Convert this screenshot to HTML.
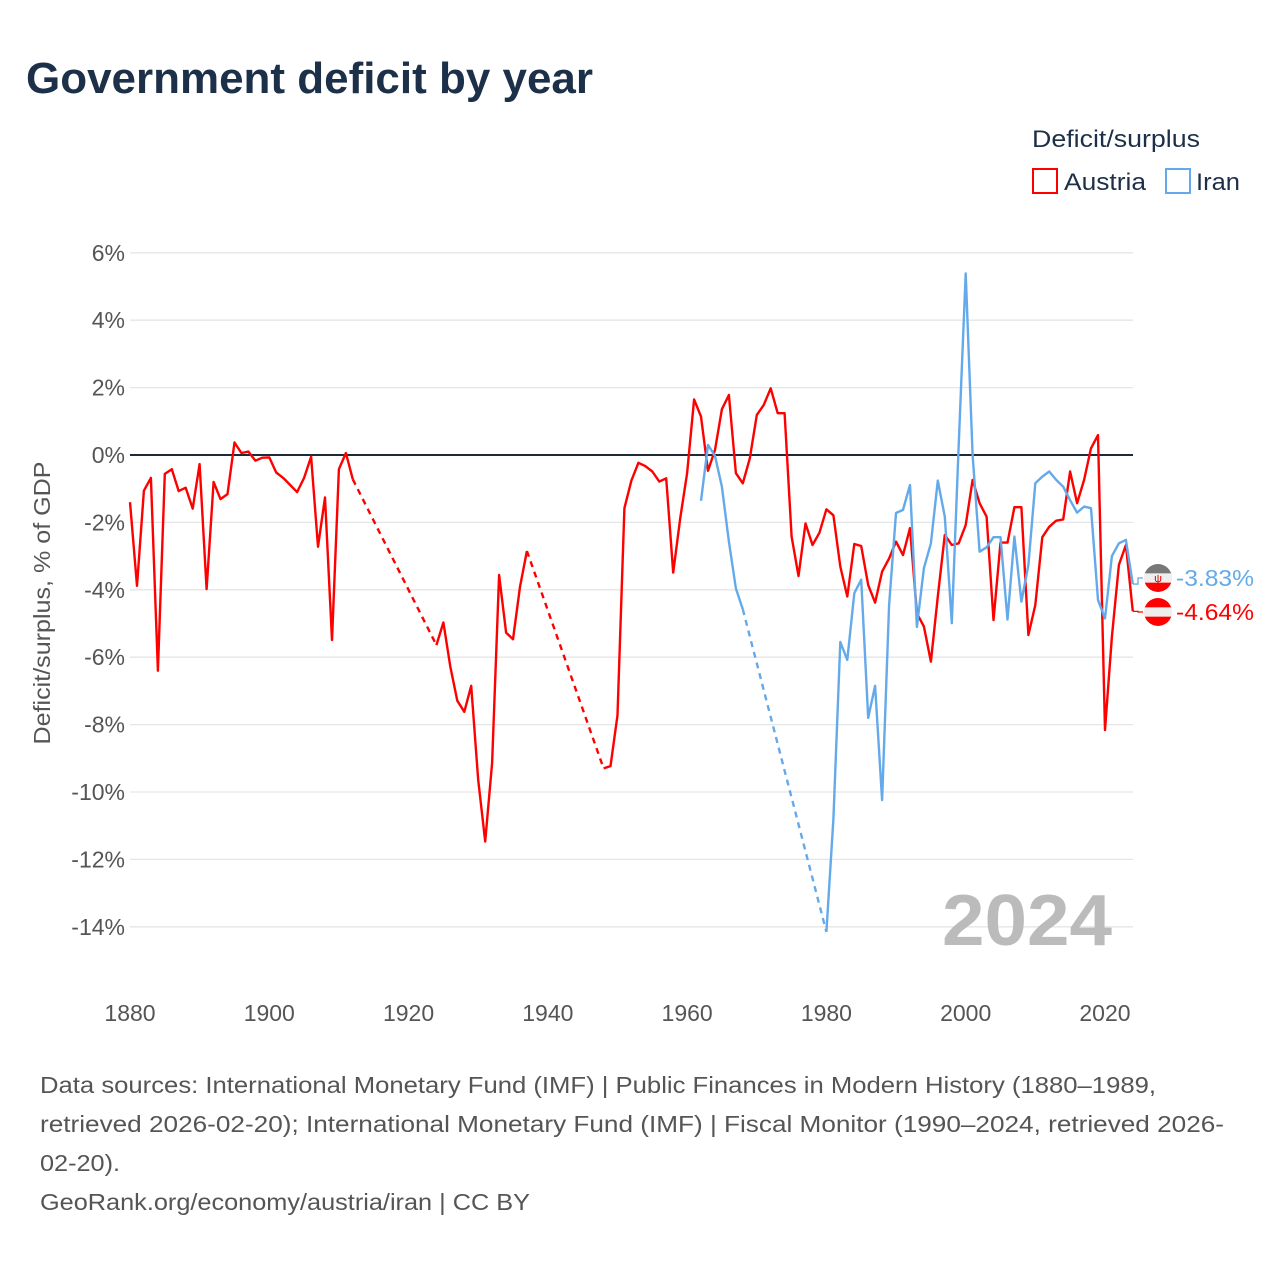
<!DOCTYPE html>
<html><head><meta charset="utf-8"><style>
html,body{margin:0;padding:0;background:#fff;width:1280px;height:1280px;overflow:hidden}
svg{display:block;font-family:"Liberation Sans",sans-serif}
</style></head><body>
<svg id="chart" width="1280" height="1280" viewBox="0 0 1280 1280">
<text x="26" y="93" font-size="44" font-weight="bold" fill="#1d3049" textLength="567" lengthAdjust="spacingAndGlyphs">Government deficit by year</text>
<text x="1032" y="147" font-size="24" fill="#1d3049" textLength="168" lengthAdjust="spacingAndGlyphs">Deficit/surplus</text>
<g>
<rect x="1033" y="169" width="24" height="24" fill="none" stroke="#f00" stroke-width="2"/>
<text x="1064" y="190" font-size="24" fill="#1d3049" textLength="82" lengthAdjust="spacingAndGlyphs">Austria</text></g>
<g>
<rect x="1166" y="169" width="24" height="24" fill="none" stroke="#64aaeb" stroke-width="2"/>
<text x="1196" y="190" font-size="24" fill="#1d3049" textLength="44" lengthAdjust="spacingAndGlyphs">Iran</text></g>
<g id="grid"></g><g id="series"></g>
<text x="942" y="945" font-size="72" font-weight="bold" fill="#bbb" textLength="170" lengthAdjust="spacingAndGlyphs">2024</text>
<text transform="translate(50,603) rotate(-90)" font-size="23" fill="#555" text-anchor="middle" textLength="283" lengthAdjust="spacingAndGlyphs">Deficit/surplus, % of GDP</text>
<g font-size="23" fill="#555">
<text x="40" y="1093" textLength="1116" lengthAdjust="spacingAndGlyphs">Data sources: International Monetary Fund (IMF) | Public Finances in Modern History (1880–1989,</text>
<text x="40" y="1132" textLength="1184" lengthAdjust="spacingAndGlyphs">retrieved 2026-02-20); International Monetary Fund (IMF) | Fiscal Monitor (1990–2024, retrieved 2026-</text>
<text x="40" y="1171" textLength="80" lengthAdjust="spacingAndGlyphs">02-20).</text>
<text x="40" y="1210" textLength="490" lengthAdjust="spacingAndGlyphs">GeoRank.org/economy/austria/iran | CC BY</text>
</g>
</svg>
<script>
const yTicks=[6,4,2,0,-2,-4,-6,-8,-10,-12,-14];
const xTicks=[1880,1900,1920,1940,1960,1980,2000,2020];
const austriaYears=[1880,1881,1882,1883,1884,1885,1886,1887,1888,1889,1890,1891,1892,1893,1894,1895,1896,1897,1898,1899,1900,1901,1902,1903,1904,1905,1906,1907,1908,1909,1910,1911,1912,
1924,1925,1926,1927,1928,1929,1930,1931,1932,1933,1934,1935,1936,1937,
1948,1949,1950,1951,1952,1953,1954,1955,1956,1957,1958,1959,1960,1961,1962,1963,1964,1965,1966,1967,1968,1969,1970,1971,1972,1973,1974,1975,1976,1977,1978,1979,1980,1981,1982,1983,1984,1985,1986,1987,1988,1989,1990,1991,1992,1993,1994,1995,1996,1997,1998,1999,2000,2001,2002,2003,2004,2005,2006,2007,2008,2009,2010,2011,2012,2013,2014,2015,2016,2017,2018,2019,2020,2021,2022,2023,2024];
const austriaValues=[-1.4,-3.88,-1.06,-0.68,-6.4,-0.56,-0.42,-1.07,-0.97,-1.59,-0.27,-3.98,-0.8,-1.31,-1.16,0.37,0.06,0.1,-0.17,-0.08,-0.07,-0.52,-0.68,-0.89,-1.1,-0.68,-0.05,-2.72,-1.26,-5.49,-0.42,0.06,-0.72,
-5.64,-4.97,-6.28,-7.29,-7.62,-6.85,-9.64,-11.47,-9.14,-3.56,-5.27,-5.47,-3.91,-2.85,
-9.3,-9.23,-7.72,-1.58,-0.76,-0.23,-0.33,-0.49,-0.79,-0.69,-3.49,-1.88,-0.54,1.65,1.14,-0.47,0.15,1.36,1.78,-0.54,-0.84,-0.1,1.19,1.48,1.98,1.24,1.24,-2.42,-3.59,-2.03,-2.67,-2.31,-1.61,-1.79,-3.31,-4.2,-2.64,-2.7,-3.86,-4.38,-3.46,-3.07,-2.57,-2.97,-2.17,-4.7,-5.09,-6.13,-4.2,-2.37,-2.67,-2.62,-2.08,-0.74,-1.43,-1.83,-4.9,-2.6,-2.6,-1.55,-1.55,-5.34,-4.45,-2.44,-2.13,-1.95,-1.91,-0.49,-1.43,-0.74,0.2,0.59,-8.16,-5.39,-3.26,-2.67,-4.64];
const iranYears=[1962,1963,1964,1965,1966,1967,1968,1980,1981,1982,1983,1984,1985,1986,1987,1988,1989,1990,1991,1992,1993,1994,1995,1996,1997,1998,1999,2000,2001,2002,2003,2004,2005,2006,2007,2008,2009,2010,2011,2012,2013,2014,2015,2016,2017,2018,2019,2020,2021,2022,2023,2024];
const iranValues=[-1.36,0.3,-0.03,-0.94,-2.57,-3.96,-4.58,-14.15,-10.8,-5.55,-6.08,-4.1,-3.7,-7.8,-6.85,-10.24,-4.45,-1.72,-1.63,-0.89,-5.1,-3.36,-2.62,-0.76,-1.83,-4.99,0.3,5.39,0.0,-2.87,-2.74,-2.44,-2.44,-4.88,-2.42,-4.35,-3.26,-0.84,-0.64,-0.49,-0.74,-0.94,-1.34,-1.71,-1.53,-1.58,-4.3,-4.85,-3.0,-2.62,-2.52,-3.83];
const NS='http://www.w3.org/2000/svg';
const X=y=>130+(y-1880)*6.964;
const Y=v=>455-v*33.7;
const grid=document.getElementById('grid'),ser=document.getElementById('series');
function mk(tag,at,parent){const e=document.createElementNS(NS,tag);for(const k in at)e.setAttribute(k,at[k]);parent.appendChild(e);return e;}
yTicks.forEach(t=>{
  const l=mk('line',{x1:130,x2:1133,y1:Y(t),y2:Y(t),stroke:t===0?'#1d2a3c':'#e6e6e6','stroke-width':t===0?2:1.3},grid);
  
  
  const tx=mk('text',{x:125,y:Y(t)+8,'font-size':23,fill:'#555','text-anchor':'end'},grid);
  tx.textContent=t+'%';
  
  
});
xTicks.forEach(t=>{
  const tx=mk('text',{x:X(t),y:1021,'font-size':23,fill:'#555','text-anchor':'middle'},grid);
  tx.textContent=t;
  
  
});
function drawSeries(years,vals,color,name){
  const g=mk('g',{},ser);
  
  
  let solid='',dash='';
  for(let i=0;i<years.length;i++){
    const p=X(years[i]).toFixed(1)+','+Y(vals[i]).toFixed(1);
    if(i===0){solid+='M'+p;continue;}
    const q=X(years[i-1]).toFixed(1)+','+Y(vals[i-1]).toFixed(1);
    if(years[i]-years[i-1]===1)solid+='L'+p; else {dash+='M'+q+'L'+p;solid+='M'+p;}
  }
  mk('path',{d:solid,fill:'none',stroke:color,'stroke-width':2.4,'stroke-linejoin':'round'},g);
  mk('path',{d:dash,fill:'none',stroke:color,'stroke-width':2.4,'stroke-dasharray':'6,5'},g);
}
drawSeries(austriaYears,austriaValues,'#f00','austria');
drawSeries(iranYears,iranValues,'#64aaeb','iran');
function endLabel(vals,color,ly,name,flag){
  const last=vals[vals.length-1];
  const g=mk('g',{},ser);
  
  
  mk('path',{d:`M1133,${Y(last)}H1138V${ly}H1143`,fill:'none',stroke:color,'stroke-width':1.3},g);
  const cx=1158,r=14;
  const cpth=mk('clipPath',{id:'c'+name},g);
  mk('circle',{cx:cx,cy:ly,r:r},cpth);
  const fg=mk('g',{'clip-path':`url(#c${name})`},g);
  flag.forEach((c,i)=>mk('rect',{x:cx-r,y:ly-r+i*(2*r/3),width:2*r,height:2*r/3+0.5,fill:c},fg));
  if(name==='iran')mk('text',{x:cx,y:ly+4,'font-size':11,fill:'#da0000','text-anchor':'middle'},g).textContent='ψ';
  const t=mk('text',{x:1176,y:ly+8,'font-size':23,fill:color,textLength:78,lengthAdjust:'spacingAndGlyphs'},g);
  t.textContent=last.toFixed(2)+'%';
}
endLabel(iranValues,'#64aaeb',578,'iran',['#777','#eee','#f00']);
endLabel(austriaValues,'#f00',612,'austria',['#f00','#eee','#f00']);
</script>
</body></html>
